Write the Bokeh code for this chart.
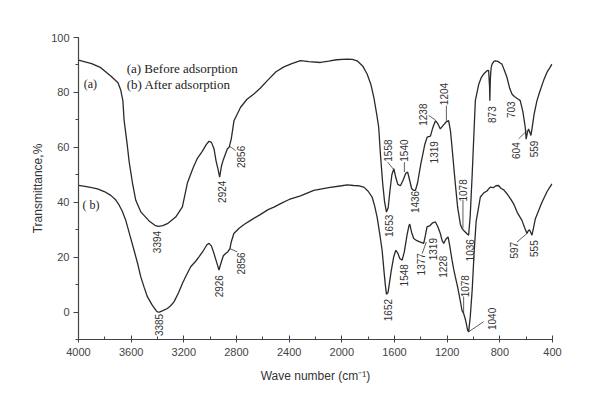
from math import pi
from bokeh.plotting import figure
from bokeh.models import Range1d, SingleIntervalTicker, Label, ColumnDataSource
from bokeh.core.properties import value
from bokeh.embed import file_html
from bokeh.resources import INLINE

# ---- curve (a): before adsorption ----
wn_a = [4000, 3900, 3831, 3755, 3700, 3680, 3663, 3654, 3630, 3616, 3590, 3565, 3527, 3464, 3420,
        3394, 3360, 3325, 3262, 3211, 3173, 3130, 3097, 3060, 3030, 3009, 2990, 2971, 2955, 2940,
        2928, 2915, 2900, 2870, 2856, 2840, 2819, 2769, 2720, 2668, 2620, 2566, 2500, 2440, 2380,
        2314, 2250, 2162, 2100, 2040, 1960, 1920, 1884, 1840, 1808, 1780, 1757, 1735, 1720, 1707,
        1690, 1675, 1661, 1648, 1635, 1620, 1605, 1590, 1575, 1555, 1535, 1515, 1500, 1485, 1470,
        1455, 1441, 1425, 1400, 1370, 1352, 1327, 1310, 1289, 1270, 1252, 1230, 1205, 1189, 1175,
        1163, 1150, 1138, 1120, 1100, 1087, 1070, 1050, 1037, 1025, 1010, 995, 986, 960, 940,
        923, 897, 885, 878, 876, 872, 866, 859, 845, 834, 815, 800, 784, 765, 746,
        725, 708, 690, 660, 645, 625, 607, 600, 590, 582, 572, 564, 555, 540, 518,
        495, 468, 440, 420, 404]
t_a = [91.8, 90.5, 89, 86, 83.5, 81, 77, 70, 61, 55, 47, 40.7, 36.5, 33.2, 31.6,
       31.2, 31.5, 32.2, 34.6, 38.3, 47, 52.5, 56, 58.5, 61, 62.2, 61.8, 59.5, 55, 52,
       49.1, 53, 55.5, 59.4, 60, 63, 69.7, 74.6, 77.5, 79.4, 81.5, 84.3, 87.5, 89.3, 90.5,
       91.6, 91.2, 90.9, 91.4, 91.9, 92.1, 92.0, 91.5, 89.5, 86.7, 83, 78.2, 72, 67.3, 57.6,
       47, 40, 36.4, 38, 44, 50, 52.2, 49, 46.5, 46, 48, 50.5, 51, 48, 45,
       44.3, 44.3, 47, 54, 61, 63.7, 64.1, 67, 69.7, 68.5, 66.7, 68, 69.4, 69.7, 66,
       60, 53, 46.7, 38, 32, 30.4, 29.5, 28.5, 28, 35, 50, 67, 77, 83, 85.5,
       86.7, 87.9, 88, 82, 77, 85, 89, 90.3, 91.3, 91.5, 91.3, 90.8, 90.3, 88, 85.5,
       81.5, 79.4, 78.5, 77.5, 77, 73, 67.3, 63, 65.5, 66.7, 65.5, 64.3, 67, 72, 77,
       80.5, 84.3, 87.5, 89, 90.3]

# ---- curve (b): after adsorption ----
wn_b = [4000, 3950, 3900, 3856, 3800, 3755, 3720, 3692, 3670, 3641, 3610, 3578, 3550, 3527, 3500,
        3477, 3440, 3410, 3401, 3385, 3360, 3325, 3300, 3275, 3240, 3211, 3180, 3148, 3110, 3085,
        3050, 3025, 3009, 2990, 2971, 2950, 2933, 2920, 2900, 2883, 2865, 2850, 2840, 2820, 2780,
        2740, 2693, 2620, 2560, 2516, 2465, 2400, 2314, 2213, 2100, 2000, 1960, 1909, 1870, 1833,
        1800, 1770, 1750, 1732, 1712, 1694, 1680, 1670, 1661, 1650, 1640, 1625, 1606, 1590, 1575,
        1560, 1542, 1525, 1505, 1490, 1484, 1470, 1454, 1430, 1403, 1378, 1365, 1353, 1330, 1310,
        1289, 1270, 1252, 1238, 1226, 1210, 1193, 1180, 1163, 1150, 1138, 1120, 1100, 1087, 1075,
        1060, 1045, 1037, 1025, 1010, 995, 980, 960, 948, 920, 900, 873, 850, 830, 810,
        790, 770, 746, 720, 696, 665, 632, 610, 594, 585, 575, 565, 556, 545, 530,
        505, 480, 460, 440, 420, 404]
t_b = [46.1, 45.8, 45.3, 44.9, 43.8, 42.5, 41, 39, 37, 33.4, 28, 22.5, 17.5, 12.8, 8.8,
       5.6, 2.5, 0.5, 0.1, 0, 0.5, 1.3, 2.3, 3.7, 7, 10.4, 13.5, 16.5, 18.5, 20.1,
       22.5, 24.5, 25, 24, 21.3, 18, 15.3, 17.5, 20.5, 21.3, 22, 23.1, 25.5, 28.6, 30.5,
       32, 33.4, 35.5, 37.3, 38.2, 39.5, 41, 42.3, 44.3, 45.3, 46, 46.3, 46.1, 46, 45.5,
       44, 41.9, 38.5, 34.6, 28.5, 22.5, 15, 10, 6.5, 7, 10, 15, 20.1, 22.5, 21.5,
       19.5, 18.9, 22, 28, 31.5, 32, 29, 26.8, 26, 25.5, 25, 28, 31, 31.5, 32.5,
       32.8, 31, 28.6, 26, 25, 26.5, 27.4, 24, 18.9, 15.5, 12.8, 9, 4, 0.5, -0.5,
       -3, -6.5, -7.2, -2, 8, 22, 33, 38.5, 41.9, 43.5, 44, 45.5, 45.3, 46, 46.1,
       45, 44.5, 43.1, 41.3, 39.5, 36, 33.4, 30.5, 28.6, 29.5, 30, 29, 28, 30.5, 34,
       37, 40, 42, 44, 45.5, 46.7]

# ---- peak labels (text, wavenumber position, transmittance position) ----
peak_text = ["3394", "2924", "2856", "1558", "1540", "1436", "1238", "1204", "1319", "1078",
             "873", "703", "604", "559", "1653", "1036",
             "3385", "2926", "2856", "1652", "1548", "1377", "1319", "1228", "1078", "1040",
             "597", "555"]
peak_x = [3401, 2908, 2769, 1652, 1525, 1441, 1383, 1221, 1297, 1083,
          860, 715, 675, 544, 1644, 1029,
          3389, 2933, 2769, 1652, 1525, 1398, 1307, 1231, 1062, 860,
          690, 544]
peak_y = [25.5, 43.8, 56.5, 58.8, 58.8, 40.1, 71.9, 79.4, 58.2, 44.3,
          71.9, 73.7, 58.8, 59.4, 31.4, 22.5,
          -4.7, 9.4, 17.7, 0.7, 13.4, 17.4, 22.9, 16.5, 9.4, -2.5,
          22.5, 23.1]

# leader lines
lead_x0 = [2850, 1652, 1525, 1340, 1206, 1080, 657, 1390, 1075, 1037, 670, 2850]
lead_y0 = [60.3, 54.6, 54.6, 71.6, 75.2, 41.0, 63.1, 21.3, 5.6, -7.2, 25.5, 23.1]
lead_x1 = [2807, 1601, 1525, 1290, 1206, 1080, 594, 1358, 1075, 923, 594, 2794]
lead_y1 = [58.8, 51.6, 51.0, 70.0, 69.7, 30.5, 66.1, 25.5, -0.5, -3.5, 28.6, 21.9]

x_ticks_interval = 400
y_ticks_interval = 20

p = figure(width=600, height=406, output_backend="svg", toolbar_location=None,
           x_range=Range1d(4000, 400), y_range=Range1d(-10, 100),
           min_border_left=78, min_border_right=48, min_border_top=37, min_border_bottom=67)
p.outline_line_color = None
p.xgrid.visible = False
p.ygrid.visible = False
p.background_fill_color = "white"
p.border_fill_color = "white"

ink = "#2a2a2a"
p.line(wn_a, t_a, line_color=ink, line_width=1.3)
p.line(wn_b, t_b, line_color=ink, line_width=1.3)

src = ColumnDataSource(dict(x=peak_x, y=peak_y, t=peak_text))
p.text(x="x", y="y", text="t", source=src, angle=pi / 2, text_align="center",
       text_baseline="middle", text_font=value("Liberation Sans"),
       text_font_size="10px", text_color="#333333")
p.segment(lead_x0, lead_y0, lead_x1, lead_y1, line_color="#333333", line_width=0.8)

# axes
for ax in (p.xaxis[0], p.yaxis[0]):
    ax.axis_line_color = "#444444"
    ax.axis_line_width = 1.2
    ax.major_tick_line_color = "#444444"
    ax.minor_tick_line_color = "#444444"
    ax.major_label_text_font = "Liberation Sans"
    ax.major_label_text_font_size = "11px"
    ax.major_label_text_color = "#444444"

p.xaxis.ticker = SingleIntervalTicker(interval=x_ticks_interval, num_minor_ticks=2)
p.yaxis.ticker = SingleIntervalTicker(interval=y_ticks_interval, num_minor_ticks=2)
p.xaxis.major_tick_in = 4
p.xaxis.major_tick_out = 3
p.xaxis.minor_tick_in = 3
p.xaxis.minor_tick_out = 0
p.xaxis.major_label_standoff = 5
p.yaxis.major_tick_in = 0
p.yaxis.major_tick_out = 5
p.yaxis.minor_tick_in = 0
p.yaxis.minor_tick_out = 3
p.yaxis.major_label_standoff = 4

p.xaxis.axis_label = "Wave number (cm\u207b\u00b9)"
p.xaxis.axis_label_text_font = "Liberation Sans"
p.xaxis.axis_label_text_font_style = "normal"
p.xaxis.axis_label_text_font_size = "12px"
p.xaxis.axis_label_text_color = "#333333"
p.xaxis.axis_label_standoff = 10

p.yaxis.axis_label = "Transmittance,%"
p.yaxis.axis_label_text_font = "Liberation Sans"
p.yaxis.axis_label_text_font_style = "normal"
p.yaxis.axis_label_text_font_size = "12px"
p.yaxis.axis_label_text_color = "#333333"
p.yaxis.axis_label_standoff = 3

serif = "Liberation Serif"
for txt, xx, yy in [("(a) Before adsorption", 3634, 88.7), ("(b) After adsorption", 3634, 82.7)]:
    p.add_layout(Label(x=xx, y=yy, text=txt, text_align="left", text_baseline="middle",
                       text_font=serif, text_font_size="13px", text_color="#222222"))
for txt, xx, yy in [("(a)", 3910, 83.2), ("( b)", 3906, 38.9)]:
    p.add_layout(Label(x=xx, y=yy, text=txt, text_align="center", text_baseline="middle",
                       text_font=serif, text_font_size="12px", text_color="#222222"))

open("out.html", "w").write(file_html(p, INLINE))
